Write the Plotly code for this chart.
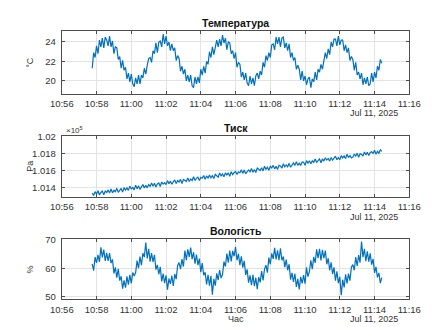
import pandas as pd
import plotly.graph_objects as go
from plotly.subplots import make_subplots

# ---- data (5 s sampling) ----
start_time = "2025-07-11 10:57:45"
sample_step = "5s"

temperature_c = [
    21.3, 22.9, 22.4, 23.6, 22.8, 24.2, 23.5, 24.4, 23.4, 24.5, 24.2, 23.6, 24.6, 23.5, 24.1, 22.8, 23.5, 23.4, 22.2, 22.5,
    21.3, 22.1, 21.1, 21.4, 20.2, 20.8, 19.9, 20.7, 19.7, 19.4, 20.3, 19.7, 20.6, 19.7, 20.6, 20.3, 21.3, 20.7, 21.6, 22.3,
    22.4, 21.9, 23.1, 22.8, 23.9, 22.9, 24.0, 24.1, 23.5, 24.8, 23.8, 24.6, 23.6, 24.0, 23.1, 23.8, 23.1, 23.4, 22.1, 22.6,
    22.3, 21.0, 21.5, 20.7, 21.2, 20.0, 20.6, 19.9, 20.6, 19.5, 19.3, 20.4, 19.7, 20.4, 19.8, 21.2, 20.6, 21.5, 20.8, 22.0,
    21.7, 23.0, 22.4, 23.5, 22.7, 23.7, 24.2, 23.5, 24.3, 23.6, 24.7, 23.9, 24.4, 23.2, 24.0, 23.9, 22.8, 23.1, 22.3, 22.9,
    21.4, 21.9, 21.7, 20.4, 20.9, 20.1, 20.8, 19.8, 19.5, 20.5, 19.7, 20.3, 19.5, 20.5, 20.8, 20.2, 21.0, 20.6, 21.9, 21.4,
    22.6, 22.1, 22.9, 22.4, 23.7, 23.8, 23.2, 24.5, 23.8, 24.5, 23.5, 24.4, 24.5, 23.4, 23.9, 23.1, 23.8, 22.4, 22.9, 22.1,
    22.4, 21.2, 21.6, 21.2, 20.1, 21.0, 20.0, 20.5, 19.6, 20.2, 20.4, 19.3, 20.2, 19.9, 20.9, 20.1, 21.2, 20.9, 21.7, 21.2,
    22.3, 22.9, 22.3, 23.3, 22.7, 24.0, 23.5, 24.3, 24.3, 23.6, 24.6, 23.7, 24.2, 24.2, 23.1, 23.7, 22.9, 23.4, 22.1, 22.5,
    22.2, 21.1, 21.9, 20.6, 20.9, 20.2, 20.8, 19.6, 20.3, 19.7, 20.4, 19.5, 19.7, 20.8, 19.9, 20.9, 20.3, 21.5, 21.1, 22.2,
    21.8,
]

pressure_pa = [
    101332, 101304, 101350, 101320, 101360, 101310, 101340, 101356, 101313, 101356,
    101339, 101370, 101335, 101380, 101335, 101366, 101348, 101388, 101341, 101370,
    101387, 101344, 101396, 101368, 101393, 101364, 101412, 101382, 101398, 101370,
    101426, 101384, 101419, 101376, 101411, 101432, 101393, 101424, 101394, 101432,
    101411, 101450, 101412, 101448, 101405, 101440, 101451, 101410, 101463, 101438,
    101455, 101432, 101479, 101442, 101473, 101436, 101464, 101488, 101446, 101480,
    101463, 101494, 101445, 101492, 101482, 101468, 101511, 101468, 101499, 101480,
    101525, 101480, 101506, 101520, 101481, 101518, 101507, 101540, 101494, 101534,
    101510, 101546, 101511, 101536, 101504, 101552, 101536, 101520, 101568, 101534,
    101557, 101524, 101570, 101546, 101570, 101530, 101584, 101550, 101572, 101586,
    101550, 101582, 101570, 101606, 101564, 101604, 101560, 101590, 101604, 101582,
    101621, 101578, 101608, 101574, 101626, 101612, 101597, 101630, 101593, 101648,
    101612, 101636, 101601, 101646, 101628, 101658, 101617, 101648, 101611, 101658,
    101651, 101626, 101677, 101642, 101664, 101642, 101682, 101636, 101669, 101688,
    101658, 101700, 101658, 101684, 101657, 101698, 101695, 101660, 101714, 101686,
    101713, 101678, 101712, 101694, 101734, 101694, 101713, 101734, 101690, 101734,
    101709, 101748, 101721, 101740, 101708, 101752, 101719, 101746, 101767, 101724,
    101750, 101724, 101773, 101746, 101769, 101738, 101790, 101750, 101774, 101746,
    101755, 101792, 101767, 101802, 101753, 101794, 101789, 101768, 101816, 101782,
    101812, 101774, 101809, 101818, 101799, 101836, 101790, 101824, 101801, 101840,
    101822,
]

humidity_pct = [
    61.5, 59.2, 63.9, 61.9, 64.7, 62.2, 67.3, 63.8, 66.5, 62.6, 65.4, 62.6, 65.3, 61.8, 63.1,
    58.2, 60.3, 56.7, 59.8, 55.7, 57.2, 52.9, 55.8, 53.2, 57.2, 54.3, 57.7, 54.7, 58.5, 57.3,
    58.5, 62.7, 60.0, 64.1, 61.1, 65.3, 63.9, 69.0, 63.4, 66.8, 62.3, 65.3, 62.2, 64.7, 59.5,
    61.2, 57.9, 60.5, 55.4, 58.1, 54.8, 57.5, 52.5, 56.4, 54.5, 57.4, 53.8, 58.0, 56.2, 61.0,
    62.0, 59.7, 63.2, 60.6, 66.2, 62.8, 66.6, 64.0, 67.2, 63.2, 65.6, 61.6, 64.8, 61.1, 63.4,
    58.6, 61.8, 57.6, 58.6, 54.4, 57.7, 53.9, 57.4, 50.8, 56.3, 53.9, 58.2, 55.9, 59.4, 56.6,
    57.8, 62.3, 60.6, 65.1, 62.0, 66.2, 62.4, 66.1, 64.2, 67.5, 62.8, 65.0, 61.1, 64.2, 60.2,
    62.6, 57.7, 59.6, 55.0, 57.5, 54.1, 57.7, 53.8, 56.7, 52.7, 56.9, 55.1, 59.0, 55.8, 59.7,
    61.1, 58.5, 63.7, 61.4, 65.2, 63.3, 67.1, 63.1, 66.3, 62.8, 67.0, 62.8, 64.1, 60.4, 63.0,
    59.3, 61.4, 56.0, 58.4, 55.2, 58.1, 53.5, 56.3, 52.6, 57.0, 54.7, 57.6, 54.6, 60.3, 57.1,
    58.8, 62.8, 59.7, 64.0, 61.9, 66.6, 63.5, 66.8, 62.7, 66.4, 63.5, 66.2, 61.4, 63.5, 59.3,
    62.1, 58.0, 60.3, 55.7, 58.9, 54.8, 57.0, 50.6, 56.0, 53.3, 57.9, 54.7, 58.1, 55.7, 60.4,
    61.3, 59.3, 63.9, 60.8, 64.6, 62.0, 69.3, 63.9, 66.8, 62.5, 65.9, 62.3, 65.2, 61.3, 63.3,
    58.4, 60.5, 56.8, 58.4, 54.8, 56.7,
]

x_tick_times = ["10:56", "10:58", "11:00", "11:02", "11:04", "11:06", "11:08",
                "11:10", "11:12", "11:14", "11:16"]
date_label = "Jul 11, 2025"
day = "2025-07-11"

titles = ["Температура", "Тиск", "Вологість"]
y_units = ["°C", "Pa", "%"]
temp_ticks = [20, 22, 24]
pres_ticks = [101400, 101600, 101800, 102000]
pres_ticktext = ["1.014", "1.016", "1.018", "1.02"]
hum_ticks = [50, 60, 70]

# ---- figure ----
times = pd.date_range(start_time, periods=len(temperature_c), freq=sample_step)
W, H = 435, 327
LINE = "#0072BD"
AX = "#4d4d4d"
TXT = "#333333"
FONT = "Liberation Sans, Arial, sans-serif"

fig = make_subplots(rows=3, cols=1)

for i, vals in enumerate([temperature_c, pressure_pa, humidity_pct], start=1):
    fig.add_trace(go.Scatter(x=times, y=vals, mode="lines",
                             line=dict(color=LINE, width=1.2), showlegend=False),
                  row=i, col=1)

x0, x1 = 52.7 / W, 420.5 / W
domains = [(26, 90), (134, 196), (239.5, 301.5)]
yranges = [[18.7, 25.1], [101291, 102000], [49.2, 70.25]]
ytickv = [temp_ticks, pres_ticks, hum_ticks]
ytickt = [[str(v) for v in temp_ticks], pres_ticktext, [str(v) for v in hum_ticks]]
xtickvals = [pd.Timestamp(f"{day} {t}") for t in x_tick_times]


def note(x_px, y_px, text, size=9, **kw):
    fig.add_annotation(x=x_px / W, y=1 - y_px / H, xref="paper", yref="paper",
                       text=text, showarrow=False, yanchor="middle",
                       font=dict(size=size, color=kw.pop("color", TXT), family=FONT),
                       **kw)


for i in range(3):
    top, bot = domains[i]
    sfx = "" if i == 0 else str(i + 1)
    fig.layout["xaxis" + sfx].update(
        domain=[x0, x1],
        range=[pd.Timestamp(f"{day} 10:56"), pd.Timestamp(f"{day} 11:16")],
        tickvals=xtickvals, ticktext=x_tick_times,
        ticks="inside", ticklen=3, tickcolor=AX, mirror="ticks",
        showline=True, linecolor=AX, linewidth=1,
        showgrid=True, gridcolor="#e3e3e3", gridwidth=1,
        zeroline=False, tickfont=dict(size=9.5, color=TXT, family=FONT),
        ticklabelstandoff=1,
    )
    fig.layout["yaxis" + sfx].update(
        domain=[1 - bot / H, 1 - top / H],
        range=yranges[i], tickvals=ytickv[i], ticktext=ytickt[i],
        ticks="inside", ticklen=3, tickcolor=AX, mirror="ticks",
        showline=True, linecolor=AX, linewidth=1,
        showgrid=True, gridcolor="#e3e3e3", gridwidth=1,
        zeroline=False, tickfont=dict(size=9.5, color=TXT, family=FONT),
        ticklabelstandoff=3,
    )
    note((52.7 + 420.5) / 2, top - 8.5, f"<b>{titles[i]}</b>", size=10.5, color="#111111")
    note(12, (top + bot) / 2, y_units[i], textangle=-90)
    note(411, bot + 20.5, date_label, xanchor="right")

note(55, 128, "×10<sup>5</sup>", size=8, xanchor="left")
note((52.7 + 420.5) / 2, 322, "Час")

fig.update_layout(width=W, height=H, margin=dict(l=0, r=0, t=0, b=0),
                  paper_bgcolor="white", plot_bgcolor="white",
                  font=dict(family=FONT))

fig.write_html("out.html")
